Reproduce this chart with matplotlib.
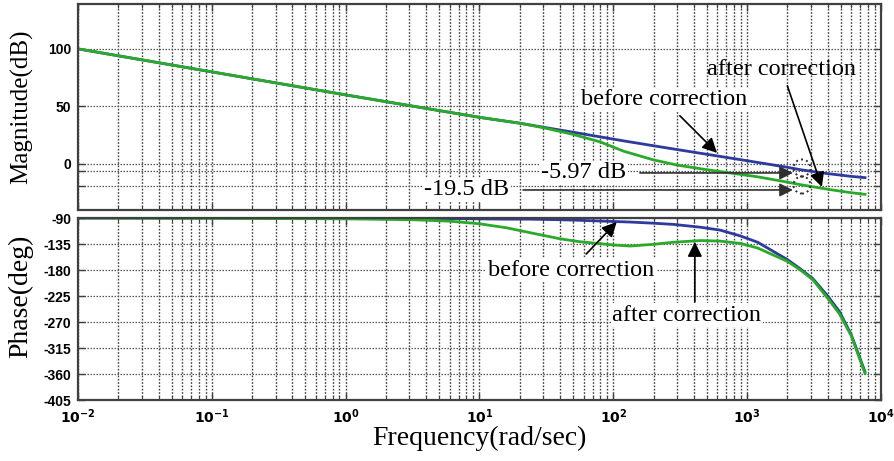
import numpy as np
import matplotlib
matplotlib.use('Agg')
import matplotlib.pyplot as plt
from matplotlib.ticker import LogLocator, NullFormatter, FixedLocator

# Данi, зчитанi з графiка
mag_freq = [0.01, 0.1, 1, 10, 20, 30, 50, 80, 120, 200, 300, 500, 800,
            1200, 2000, 2500, 4000, 6000, 7600]
mag_before = [100, 80, 60, 40.5, 35.4, 31.9, 27.6, 23.5, 20.0, 15.8, 12.5,
              8.4, 4.6, 1.3, -2.9, -5.0, -8.4, -10.8, -11.9]
mag_after = [100, 80, 60, 40.5, 35.4, 31.5, 25.7, 19.1, 11.0, 3.5, -1.0,
             -5.0, -8.3, -11.2, -15.8, -18.0, -22.0, -25.0, -26.4]

ph_freq = [0.01, 0.1, 1, 3.2, 6, 10, 16, 24, 40, 56, 100, 134, 200, 280,
           450, 630, 890, 1200, 2000, 2500, 3100, 4000, 4900, 6000, 7600]
ph_before = [-90, -90, -90.5, -91, -91, -91.5, -92, -92, -93, -94, -96, -97,
             -99, -101, -106, -111, -121, -132, -162, -178, -195, -225, -252,
             -292, -356]
ph_after = [-90, -90.5, -91.5, -93, -95.5, -100, -107, -115.5, -126, -131,
            -136.7, -138.5, -135.5, -132, -129, -130, -134, -142, -165, -180,
            -197, -229, -256, -294, -359]

mag_ticks = [-19.5, -5.97, 0, 50, 100]
mag_labels = ['', '', '0', '50', '100']
ph_ticks = [-405, -360, -315, -270, -225, -180, -135, -90]
x_ticks = [1e-2, 1e-1, 1e0, 1e1, 1e2, 1e3, 1e4]
x_labels = [r'$\mathbf{10^{-2}}$', r'$\mathbf{10^{-1}}$', r'$\mathbf{10^{0}}$',
            r'$\mathbf{10^{1}}$', r'$\mathbf{10^{2}}$', r'$\mathbf{10^{3}}$',
            r'$\mathbf{10^{4}}$']

BLUE = '#2e3a9e'
GREEN = '#2aaa2a'
SERIF = 'Liberation Serif'
TICKFONT = dict(family='Liberation Sans', weight='bold', size=10)

fig = plt.figure(figsize=(8.94, 4.61), dpi=100)
ax1 = fig.add_axes([0.0872, 0.5445, 0.8982, 0.4469])
ax2 = fig.add_axes([0.0872, 0.1323, 0.8982, 0.3948])


def style_axis(ax):
    ax.set_xscale('log')
    ax.set_xlim(1e-2, 1e4)
    ax.xaxis.set_major_locator(LogLocator(base=10, numticks=10))
    ax.xaxis.set_minor_locator(LogLocator(base=10, subs=np.arange(2, 10), numticks=20))
    ax.xaxis.set_minor_formatter(NullFormatter())
    ax.grid(True, which='both', axis='x', color='#404040', linestyle=(0, (1.2, 1.2)), lw=1.0)
    ax.grid(True, which='major', axis='y', color='#555555', linestyle=(0, (1.2, 1.2)), lw=0.9)
    ax.tick_params(which='both', direction='in', top=True, right=True, color='#404040')
    ax.tick_params(which='major', length=5, width=1.0)
    ax.tick_params(which='minor', length=3, width=0.8)
    for sp in ax.spines.values():
        sp.set_color('#404040')
        sp.set_linewidth(1.6)


# 1. Амплiтуда
style_axis(ax1)
ax1.plot(mag_freq, mag_before, color=BLUE, lw=2)
ax1.plot(mag_freq, mag_after, color=GREEN, lw=2)
ax1.set_ylim(-40, 139)
ax1.yaxis.set_major_locator(FixedLocator(mag_ticks))
ax1.set_yticklabels(mag_labels, fontdict=TICKFONT)
ax1.tick_params(axis='y', pad=5)
ax1.set_xticklabels([])
ax1.set_ylabel('Magnitude(dB)', family=SERIF, fontsize=18)
ax1.yaxis.set_label_coords(-0.056, 0.5)

arrow = dict(arrowstyle='-|>', color='black', lw=1.2, mutation_scale=22)
ax1.annotate('after correction', xy=(3620, -20), xytext=(1820, 81.7),
             ha='center', va='center', family=SERIF, fontsize=17.5,
             arrowprops=dict(arrow, shrinkA=2, shrinkB=0))
ax1.annotate('before correction', xy=(596, 9.6), xytext=(239, 55.7),
             ha='center', va='center', family=SERIF, fontsize=17.5,
             arrowprops=dict(arrow, shrinkA=4, shrinkB=0),
             bbox=dict(fc='white', ec='none', pad=1))
ax1.text(60.3, -7.8, '-5.97 dB', ha='center', va='center', family=SERIF, fontsize=17.5,
         bbox=dict(fc='white', ec='none', pad=1))
ax1.annotate('', xy=(2200, -7.8), xytext=(158, -7.8),
             arrowprops=dict(arrowstyle='-|>', color='#303030', lw=1.2, mutation_scale=20,
                             shrinkA=0, shrinkB=0))
ax1.text(8.07, -22.6, '-19.5 dB', ha='center', va='center', family=SERIF, fontsize=17.5,
         bbox=dict(fc='white', ec='none', pad=1))
ax1.annotate('', xy=(2200, -22.6), xytext=(21.2, -22.6),
             arrowprops=dict(arrowstyle='-|>', color='#303030', lw=1.2, mutation_scale=20,
                             shrinkA=0, shrinkB=0))
ax1.scatter([2570, 2570], [-3.5, -18.3], s=150, facecolors='none',
            edgecolors='#303030', linestyles=':', linewidths=1.4, zorder=5)

# 2. Фаза
style_axis(ax2)
ax2.plot(ph_freq, ph_before, color=BLUE, lw=2)
ax2.plot(ph_freq, ph_after, color=GREEN, lw=2)
ax2.set_ylim(-405, -90)
ax2.set_yticks(ph_ticks)
ax2.set_yticklabels([str(t) for t in ph_ticks], fontdict=TICKFONT)
ax2.tick_params(axis='y', pad=5)
ax2.set_xticks(x_ticks)
ax2.set_xticklabels(x_labels, fontsize=10)
ax2.tick_params(axis='x', pad=5)
ax2.set_ylabel('Phase(deg)', family=SERIF, fontsize=20)
ax2.yaxis.set_label_coords(-0.056, 0.57)
ax2.set_xlabel('Frequency(rad/sec)', family=SERIF, fontsize=20)
ax2.xaxis.set_label_coords(0.5, -0.14)

ax2.annotate('before correction', xy=(106, -97), xytext=(48.3, -180),
             ha='center', va='center', family=SERIF, fontsize=17.5,
             arrowprops=dict(arrow, shrinkA=4, shrinkB=0),
             bbox=dict(fc='white', ec='none', pad=1))
ax2.annotate('', xy=(407, -131.5), xytext=(407, -235),
             arrowprops=dict(arrow, shrinkA=0, shrinkB=0))
ax2.text(355, -258, 'after correction', ha='center', va='center', family=SERIF,
         fontsize=17.5, bbox=dict(fc='white', ec='none', pad=1))

fig.savefig('out.png', dpi=100)
